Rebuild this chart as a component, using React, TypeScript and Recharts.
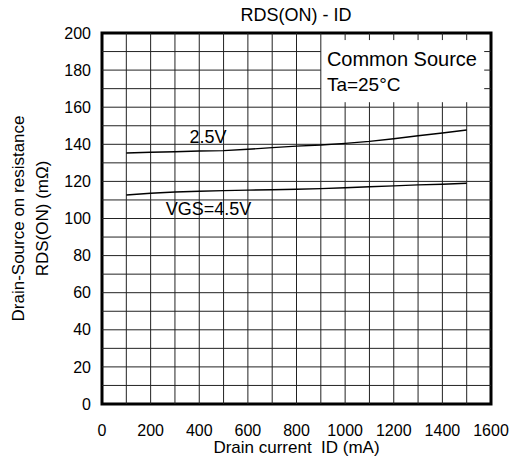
import React from 'react';
import { LineChart, Line, XAxis, YAxis, ReferenceLine, ReferenceArea, ReferenceDot } from 'recharts';

const currents = [100, 200, 300, 400, 500, 600, 700, 800, 900, 1000, 1100, 1200, 1300, 1400, 1500];
const rds25 = [135.3, 135.7, 136.0, 136.4, 136.6, 137.3, 138.2, 139.0, 139.6, 140.5, 141.6, 143.0, 144.6, 146.1, 147.7];
const rds45 = [112.7, 113.6, 114.3, 114.7, 115.0, 115.3, 115.5, 115.8, 116.1, 116.6, 117.1, 117.6, 118.1, 118.5, 119.0];

const xTicks = [0, 200, 400, 600, 800, 1000, 1200, 1400, 1600];
const yTicks = [0, 20, 40, 60, 80, 100, 120, 140, 160, 180, 200];
const xGrid = [100, 200, 300, 400, 500, 600, 700, 800, 900, 1000, 1100, 1200, 1300, 1400, 1500];
const yGrid = [10, 20, 30, 40, 50, 60, 70, 80, 90, 100, 110, 120, 130, 140, 150, 160, 170, 180, 190];

// legend box region (data units)
const boxX = 900;
const boxY = 160;

const data = currents.map((c, i) => ({ id: c, v25: rds25[i], v45: rds45[i] }));

const FONT = '"Liberation Sans", Arial, Helvetica, sans-serif';
const GRID = '#222';

const makeText = (text: string, anchor: 'start' | 'middle', size: number) => (props: any) => {
  const vb = props.viewBox || {};
  return (
    <text x={vb.x} y={vb.y} textAnchor={anchor} dominantBaseline="central" fontSize={size} fontFamily={FONT} fill="#000">
      {text}
    </text>
  );
};

const YLabel = (props: any) => {
  const vb = props.viewBox || {};
  const cy = vb.y + vb.height / 2;
  const x1 = vb.x + 16;
  const x2 = vb.x + 40;
  return (
    <g fontFamily={FONT} fontSize={17} fill="#000">
      <text x={x1} y={cy} textAnchor="middle" dominantBaseline="central" transform={`rotate(-90 ${x1} ${cy})`}>
        Drain-Source on resistance
      </text>
      <text x={x2} y={cy} textAnchor="middle" dominantBaseline="central" transform={`rotate(-90 ${x2} ${cy})`}>
        RDS(ON) (mΩ)
      </text>
    </g>
  );
};

const XLabel = (props: any) => {
  const vb = props.viewBox || {};
  return (
    <text x={vb.x + vb.width / 2} y={vb.y + 49} textAnchor="middle" fontFamily={FONT} fontSize={17} fill="#000" style={{ whiteSpace: 'pre' }}>
      {'Drain current  ID (mA)'}
    </text>
  );
};

export default function App() {
  const gridLines: React.ReactNode[] = [];
  xGrid.forEach((x) => {
    if (x > boxX) {
      gridLines.push(
        <ReferenceLine key={`vx${x}`} segment={[{ x, y: 0 }, { x, y: boxY }]} stroke={GRID} strokeWidth={1} />
      );
      gridLines.push(
        <ReferenceLine key={`vt${x}`} segment={[{ x, y: 200 }, { x, y: 196.2 }]} stroke={GRID} strokeWidth={1} />
      );
      gridLines.push(
        <ReferenceLine key={`vb${x}`} segment={[{ x, y: boxY }, { x, y: boxY + 2.7 }]} stroke={GRID} strokeWidth={1} />
      );
    } else {
      gridLines.push(
        <ReferenceLine key={`vx${x}`} segment={[{ x, y: 0 }, { x, y: 200 }]} stroke={GRID} strokeWidth={1} />
      );
    }
  });
  yGrid.forEach((y) => {
    if (y > boxY) {
      gridLines.push(
        <ReferenceLine key={`hy${y}`} segment={[{ x: 0, y }, { x: boxX, y }]} stroke={GRID} strokeWidth={1} />
      );
      gridLines.push(
        <ReferenceLine key={`hr${y}`} segment={[{ x: 1572, y }, { x: 1600, y }]} stroke={GRID} strokeWidth={1} />
      );
    } else {
      gridLines.push(
        <ReferenceLine key={`hy${y}`} segment={[{ x: 0, y }, { x: 1600, y }]} stroke={GRID} strokeWidth={1} />
      );
    }
  });

  return (
    <div style={{ position: 'absolute', left: 0, top: 0, width: 513, height: 458, background: '#fff' }}>
      <LineChart
        width={513}
        height={458}
        data={data}
        margin={{ top: 33, right: 22, left: 2, bottom: 14 }}
        style={{ fontFamily: FONT }}
      >
        <XAxis
          dataKey="id"
          type="number"
          domain={[0, 1600]}
          ticks={xTicks}
          axisLine={false}
          tickLine={false}
          tickSize={0}
          tickMargin={21}
          height={40}
          interval={0}
          tick={{ fill: '#000', fontSize: 16, fontFamily: FONT }}
          label={<XLabel />}
        />
        <YAxis
          type="number"
          domain={[0, 200]}
          ticks={yTicks}
          axisLine={false}
          tickLine={false}
          tickSize={0}
          tickMargin={11}
          width={100}
          interval={0}
          tick={{ fill: '#000', fontSize: 16, fontFamily: FONT }}
          label={<YLabel />}
        />
        {gridLines}
        <Line type="linear" dataKey="v25" stroke="#000" strokeWidth={1.4} dot={false} isAnimationActive={false} />
        <Line type="linear" dataKey="v45" stroke="#000" strokeWidth={1.4} dot={false} isAnimationActive={false} />
        <ReferenceArea x1={0} x2={1600} y1={0} y2={200} fill="none" stroke="#000" strokeWidth={3} />
        <ReferenceDot x={436} y={144} r={0} fill="none" stroke="none" label={makeText('2.5V', 'middle', 18)} />
        <ReferenceDot x={438} y={105} r={0} fill="none" stroke="none" label={makeText('VGS=4.5V', 'middle', 18)} />
        <ReferenceDot x={925} y={186} r={0} fill="none" stroke="none" label={makeText('Common Source', 'start', 20)} />
        <ReferenceDot x={925} y={172.5} r={0} fill="none" stroke="none" label={makeText('Ta=25°C', 'start', 19)} />
        <text x={296} y={21} textAnchor="middle" fontSize={18} fontFamily={FONT} fill="#000">
          RDS(ON) - ID
        </text>
      </LineChart>
    </div>
  );
}
